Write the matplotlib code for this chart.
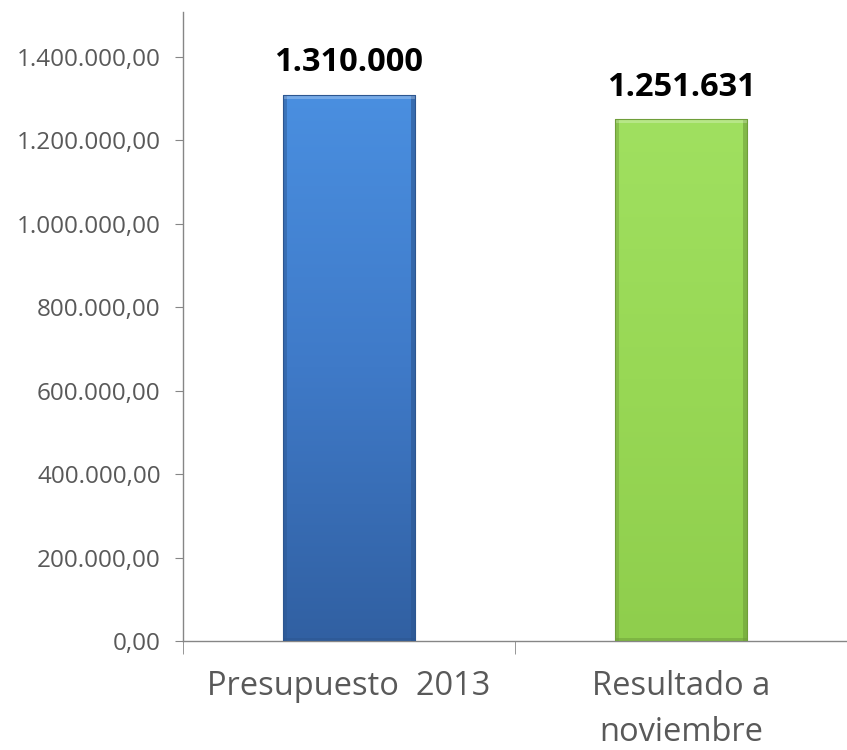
import matplotlib
matplotlib.use("Agg")
import matplotlib.pyplot as plt
import numpy as np
from matplotlib.colors import LinearSegmentedColormap

categories = ["Presupuesto  2013", "Resultado a\nnoviembre"]
values = [1310000, 1251631]
value_labels = ["1.310.000", "1.251.631"]
y_ticks = [0, 200000, 400000, 600000, 800000, 1000000, 1200000, 1400000]
y_tick_labels = ["0,00", "200.000,00", "400.000,00", "600.000,00", "800.000,00",
                 "1.000.000,00", "1.200.000,00", "1.400.000,00"]

bar_styles = [
    # (top, middle, bottom, edge)
    ("#4a8fe0", "#3f7ac8", "#3160a2", "#2c5690"),
    ("#a0e060", "#98d855", "#8fce4d", "#6f9e3a"),
]

plt.rcParams['font.family'] = ['Open Sans', 'DejaVu Sans']

fig = plt.figure(figsize=(8.47, 7.5), dpi=100)
ax = fig.add_axes([0.216, 0.1453, 0.784, 0.8387])

ax.set_xlim(-0.5, 1.5)
ax.set_ylim(0, 1508000)

bar_w = 0.4
bars = ax.bar(range(len(values)), values, width=bar_w, color="none", zorder=2)

for i, (rect, val) in enumerate(zip(bars, values)):
    top, mid, bot, edge = bar_styles[i]
    cmap = LinearSegmentedColormap.from_list(f"g{i}", [bot, mid, top])
    x0 = rect.get_x()
    x1 = x0 + rect.get_width()
    # vertical shading
    grad = np.linspace(0, 1, 256).reshape(-1, 1)
    im = ax.imshow(grad, cmap=cmap, origin="lower", aspect="auto",
                   extent=[x0, x1, 0, val], zorder=2, interpolation="bicubic")
    im.set_clip_path(rect)
    # bevel: darker sides, lighter top rim
    side = 0.012
    ax.fill_between([x0, x0 + side], 0, val, color=edge, alpha=0.45, lw=0, zorder=3)
    ax.fill_between([x1 - side, x1], 0, val, color=edge, alpha=0.6, lw=0, zorder=3)
    ax.fill_between([x0, x1], val - 10000, val, color="white", alpha=0.25, lw=0, zorder=3)
    ax.fill_between([x0, x1], 0, 8000, color=edge, alpha=0.5, lw=0, zorder=3)
    ax.plot([x0, x0, x1, x1], [0, val, val, 0], color=edge, lw=0.8, zorder=4)
    ax.annotate(value_labels[i], (i, val), xytext=(0, 11), textcoords="offset points",
                ha="center", va="bottom", fontsize=23.5, fontweight="bold", color="black")

ax.set_yticks(y_ticks)
ax.set_yticklabels(y_tick_labels)
ax.set_xticks([0, 1])
ax.set_xticklabels(categories, linespacing=1.5)
ax.set_xticks([-0.5, 0.5, 1.5], minor=True)

for s in ["top", "right"]:
    ax.spines[s].set_visible(False)
for s in ["left", "bottom"]:
    ax.spines[s].set_color("#868686")
    ax.spines[s].set_linewidth(1.0)

for lbl in ax.get_yticklabels():
    lbl.set_fontweight(500)
for lbl in ax.get_xticklabels():
    lbl.set_fontweight(500)

ax.tick_params(axis="y", direction="out", length=6, color="#868686",
               labelsize=17.5, labelcolor="#595959", pad=10)
ax.tick_params(axis="x", which="major", length=0, labelsize=23.5,
               labelcolor="#595959", pad=21)
ax.tick_params(axis="x", which="minor", direction="out", length=9, color="#868686")

fig.savefig("out.png", dpi=100, facecolor="white")
